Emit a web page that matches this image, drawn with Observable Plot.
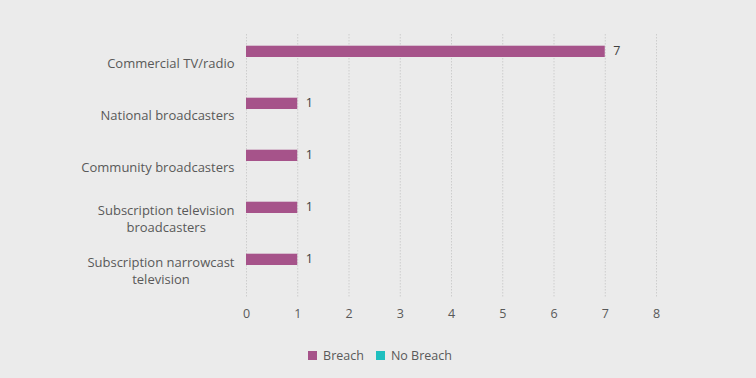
<!DOCTYPE html>
<html>
<head>
<meta charset="utf-8">
<script src="https://cdn.jsdelivr.net/npm/d3@7"></script>
<script src="https://cdn.jsdelivr.net/npm/@observablehq/plot@0.6"></script>
<style>
  html, body { margin: 0; padding: 0; background: #ebebeb; }
  body { width: 756px; height: 378px; overflow: hidden; font-family: "Open Sans", sans-serif; color: #595959; }
  #legend { display: flex; justify-content: center; align-items: center; gap: 12px; font-size: 12.5px; margin-top: 7px; padding-left: 4px; }
  #legend .item { display: flex; align-items: center; gap: 6px; }
  #legend .sw { width: 9px; height: 9px; display: inline-block; }
</style>
</head>
<body>
<div id="chart"></div>
<div id="legend"></div>
<script>
const categories = ["Commercial TV/radio", "National broadcasters", "Community broadcasters", "Subscription television broadcasters", "Subscription narrowcast television"];
const categoryLabels = ["Commercial TV/radio", "National broadcasters", "Community broadcasters", "Subscription television\nbroadcasters", "Subscription narrowcast\ntelevision"];
const breach = [7, 1, 1, 1, 1];
const noBreach = [0, 0, 0, 0, 0];
const seriesNames = ["Breach", "No Breach"];
const seriesColors = ["#a6538a", "#1fbfbf"];
const xTicks = [0, 1, 2, 3, 4, 5, 6, 7, 8];

const breachRows = categories.map((c, i) => ({category: c, series: "Breach", value: breach[i]}));
const noBreachRows = categories.map((c, i) => ({category: c, series: "No Breach", value: noBreach[i]}));
const labelOf = new Map(categories.map((c, i) => [c, categoryLabels[i]]));

const chart = Plot.plot({
  width: 756,
  height: 340,
  marginLeft: 246,
  marginRight: 100,
  marginTop: 34,
  marginBottom: 42,
  style: {background: "#ebebeb", color: "#595959", fontFamily: "Open Sans, sans-serif", fontSize: "12px"},
  x: {domain: [0, 8], ticks: xTicks, label: null},
  y: {domain: categories, padding: 0, label: null},
  color: {domain: seriesNames, range: seriesColors},
  marks: [
    Plot.gridX(xTicks, {stroke: "#cdcdcd", strokeOpacity: 1, strokeDasharray: "1.5,1.5"}),
    Plot.barX(breachRows, {x: "value", y: "category", fill: "series", insetTop: 9.7, insetBottom: 31}),
    Plot.barX(noBreachRows, {x: "value", y: "category", fill: "series", insetTop: 21.7, insetBottom: 19}),
    Plot.text(breachRows, {x: "value", y: "category", text: d => String(d.value), dx: 8, dy: -11.5, textAnchor: "start", fill: "#404040", fontSize: 12.5}),
    Plot.axisY({tickSize: 0, tickPadding: 12, tickFormat: d => labelOf.get(d), lineHeight: 1.3, fill: "#595959", fontSize: 13, label: null, ariaLabel: "y-axis"}),
    Plot.axisX({ticks: xTicks, tickSize: 0, tickPadding: 11, fill: "#595959", fontSize: 12.5, label: null})
  ]
});
document.getElementById("chart").appendChild(chart);

// Center wrapped lines of each y-axis label on one another, keeping the right edge aligned
chart.querySelectorAll('g[aria-label="y-axis tick label"] text').forEach(t => {
  const spans = t.querySelectorAll("tspan");
  if (spans.length < 2) return;
  const w = Math.max(...Array.from(spans, s => s.getComputedTextLength()));
  const x0 = parseFloat(spans[0].getAttribute("x") || "0");
  t.setAttribute("text-anchor", "middle");
  spans.forEach(s => s.setAttribute("x", x0 - w / 2));
});

const legend = document.getElementById("legend");
seriesNames.forEach((s, i) => {
  const item = document.createElement("span");
  item.className = "item";
  const sw = document.createElement("span");
  sw.className = "sw";
  sw.style.background = seriesColors[i];
  const t = document.createElement("span");
  t.textContent = s;
  item.appendChild(sw);
  item.appendChild(t);
  legend.appendChild(item);
});
</script>
</body>
</html>
